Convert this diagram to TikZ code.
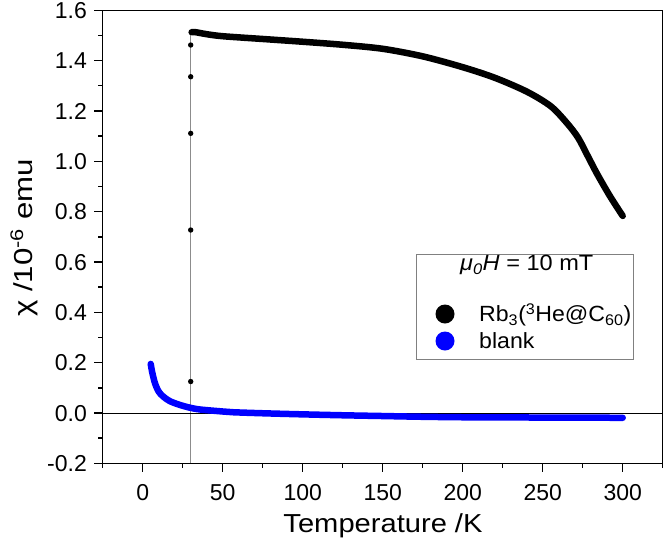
\documentclass[tikz,border=0pt]{standalone}
\usepackage{fontspec}
\setmainfont{Liberation Sans}
\definecolor{gline}{gray}{0.55}
\definecolor{lgbox}{gray}{0.5}
\tikzset{
  axisline/.style={line width=1.4pt},
  ticklab/.style={inner sep=0pt, font=\fontsize{23}{27}\selectfont},
  axtitle/.style={inner sep=0pt, font=\fontsize{26}{30}\selectfont},
  legtext/.style={inner sep=0pt, anchor=west, font=\fontsize{22}{26}\selectfont},
  datathick/.style={line width=6.5pt, line cap=round, line join=round}
}
\begin{document}
\begin{tikzpicture}[x=1pt,y=-1pt]
\useasboundingbox (0,0) rectangle (664,547);
\begin{scope}[shift={(142.7,413)},x=1.6pt,y=251.7pt]
  % vertical gray line at 30 K
  \draw[gline, line width=1pt] (30,-0.2) -- (30,1.512);
  % zero line
  \draw[line width=1pt] (-25,0) -- (325,0);
  % blank (blue)
  \draw[blue, datathick] plot[smooth] coordinates {
    (5,0.195) (6,0.16) (7.7,0.118) (10,0.085) (12.9,0.065) (17,0.047)
    (23.3,0.032) (29.6,0.021) (35.8,0.014) (50,0.006) (56.6,0.003)
    (75,-0.001) (98,-0.005) (125,-0.009) (150,-0.012) (175,-0.015)
    (202.5,-0.017) (250,-0.018) (300,-0.019)};
  % sample (black)
  \draw[black, datathick] plot[smooth] coordinates {
    (30.6,1.513) (33,1.513) (40,1.505) (50,1.497) (75,1.486) (100,1.475)
    (125,1.463) (150,1.447) (175,1.417) (200,1.374) (220,1.332)
    (240,1.277) (255,1.219) (265,1.153) (272,1.095) (278,1.023)
    (284,0.950) (292,0.862) (300,0.783)};
  \foreach \v [count=\i] in {0.125,0.727,1.111,1.336,1.462}
    \fill (30,\v) circle[radius=2.7pt] coordinate (pt\i);
  % frame
  \draw[axisline] (-25,-0.2) rectangle (325,1.6);
  % x ticks
  \foreach \t in {0,50,...,300} {
    \draw[axisline] (\t,-0.2) -- ++(0pt,-9pt);
    \node[ticklab, anchor=base, yshift=-36.7pt] at (\t,-0.2) {\t};
  }
  \foreach \t in {-25,25,...,325}
    \draw[axisline] (\t,-0.2) -- ++(0pt,-5pt);
  % y ticks
  \foreach \v in {-0.2,0.0,0.2,0.4,0.6,0.8,1.0,1.2,1.4,1.6} {
    \draw[axisline] (-25,\v) -- ++(-9pt,0pt);
    \node[ticklab, anchor=base east, xshift=-15.7pt, yshift=-8.2pt] at (-25,\v) {\v};
  }
  \foreach \v in {-0.1,0.1,0.3,0.5,0.7,0.9,1.1,1.3,1.5}
    \draw[axisline] (-25,\v) -- ++(-5pt,0pt);
\end{scope}
% axis titles
\node[axtitle, anchor=base] (xt) at (383,532) {\scalebox{1.12}[1]{Temperature /K}};
\node[axtitle, rotate=90] (yt) at (24,238) {\scalebox{1.2}[1]{χ /10\textsuperscript{-6} emu}};
% legend
\node[draw=lgbox, line width=1pt, fill=white, minimum width=217.3pt, minimum height=105pt, inner sep=0pt] (leg) at (524.65,306.5) {};
\node[inner sep=0pt, font=\fontsize{22}{26}\selectfont] (lt) at (526.7,265) {\scalebox{1.07}[1]{\textit{μ\textsubscript{0}H} = 10 mT}};
\fill[black] (445,314) circle[radius=9.5pt] coordinate (lb);
\fill[blue] (445,341) circle[radius=9.5pt] coordinate (lbl);
\node[legtext] (l1) at (479,315) {\scalebox{1.05}[1]{Rb\textsubscript{3}(\textsuperscript{3}He@C\textsubscript{60})}};
\node[legtext] (l2) at (479,341) {\scalebox{1.05}[1]{blank}};
\end{tikzpicture}
\end{document}
